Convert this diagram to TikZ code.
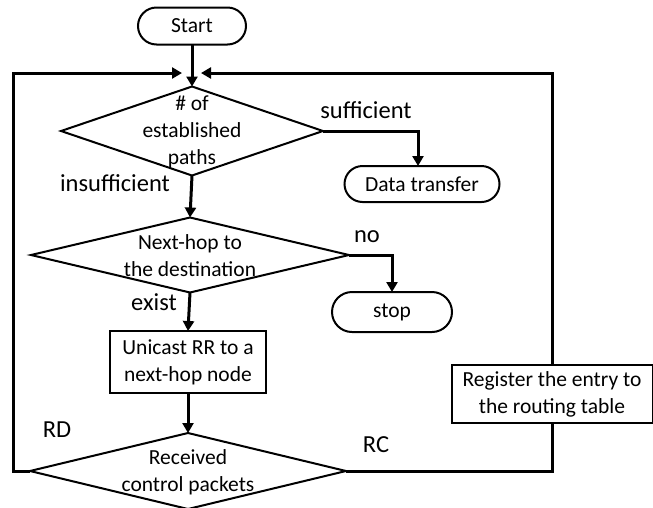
\documentclass[tikz,border=0pt]{standalone}
\usepackage{fontspec}
\setmainfont{Carlito}
\usetikzlibrary{arrows.meta,shapes.geometric,shapes.misc}
\newcommand\dgboxfont{\fontsize{21.5}{27}\selectfont}
\newcommand\dglblfont{\fontsize{24.5}{29}\selectfont}
\begin{document}
\begin{tikzpicture}[x=1pt,y=-1pt,
  box/.style={draw,line width=2pt,rectangle,inner sep=0pt,outer sep=0pt,align=center,font=\dgboxfont},
  term/.style={draw,line width=2pt,rounded rectangle,inner sep=0pt,outer sep=0pt,font=\dgboxfont},
  decide/.style={draw,line width=2pt,diamond,inner sep=0pt,outer sep=0pt},
  dtext/.style={align=center,font=\dgboxfont,inner sep=0pt},
  lbl/.style={font=\dglblfont,inner sep=0pt},
  flow/.style={line width=3pt},
  arr/.style={flow,-{Triangle[length=10pt,width=11pt]}}]
\useasboundingbox (0,0) rectangle (653,507);
% nodes
\node[term,minimum width=108pt,minimum height=37pt] (start) at (192,26) {Start};
\node[decide,minimum width=262pt,minimum height=89pt] (d1) at (192,131) {};
\node[dtext] (d1t) at (192,132) {\# of\\established\\paths};
\node[term,minimum width=155pt,minimum height=36pt] (dt) at (422,184) {Data transfer};
\node[decide,minimum width=318pt,minimum height=75pt] (d2) at (190,255) {};
\node[dtext] (d2t) at (190,256) {Next-hop to\\the destination};
\node[term,minimum width=120pt,minimum height=40pt] (stop) at (392,312) {stop};
\node[box,minimum width=156pt,minimum height=62pt] (rr) at (188,362) {Unicast RR to a\\next-hop node};
\node[decide,minimum width=316pt,minimum height=76pt] (d3) at (188,471) {};
\node[dtext] (d3t) at (188,472) {Received\\control packets};
\node[box,minimum width=201pt,minimum height=58pt] (reg) at (552,394) {Register the entry to\\the routing table};
% loop coordinates
\coordinate (lc) at (13,73);
\coordinate (la) at (182,73);
\coordinate (ra) at (201,73);
% connectors
\draw[arr] (start.south) -- (d1.north);
\draw[arr] (d1.south) -- (d2.north);
\draw[arr] (d2.south) -- (rr.north);
\draw[arr] (rr.south) -- (d3.north);
\draw[arr] (d1.east) -| ([xshift=-4pt]dt.north);
\draw[arr] (d2.east) -| (stop.north);
\draw[arr] (d3.west) -| (lc) -- (la);
\draw[flow] (d3.east) -| (reg.south);
\draw[arr] (reg.north) |- (ra);
% labels
\node[lbl] (lsuf) at (366,110) {sufficient};
\node[lbl] (linsuf) at (115,183) {insufficient};
\node[lbl] (lno) at (367,237) {no};
\node[lbl] (lexist) at (154,302) {exist};
\node[lbl] (lrd) at (57,430) {RD};
\node[lbl] (lrc) at (376,445) {RC};
\end{tikzpicture}
\end{document}
